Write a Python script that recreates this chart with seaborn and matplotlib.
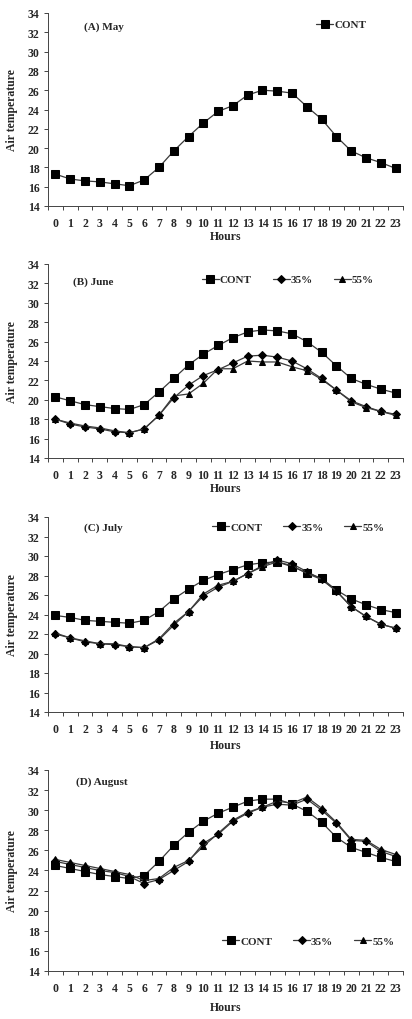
import numpy as np
import pandas as pd
import matplotlib
matplotlib.use("Agg")
import matplotlib.pyplot as plt
import seaborn as sns

sns.set_style("ticks")
plt.rcParams['font.family'] = ['Liberation Serif', 'DejaVu Serif']
plt.rcParams['font.weight'] = 'bold'

hours = list(range(24))

may_cont = [17.3, 16.8, 16.6, 16.5, 16.3, 16.1, 16.7, 18.0, 19.7, 21.2, 22.6, 23.8,
            24.4, 25.5, 26.0, 25.9, 25.7, 24.3, 23.0, 21.2, 19.7, 19.0, 18.5, 17.9]

june_cont = [20.3, 19.9, 19.5, 19.3, 19.1, 19.0, 19.5, 20.8, 22.2, 23.6, 24.7, 25.6,
             26.4, 27.0, 27.2, 27.1, 26.8, 26.0, 24.9, 23.5, 22.2, 21.6, 21.1, 20.7]
june_35 = [18.0, 17.5, 17.2, 17.0, 16.7, 16.6, 17.0, 18.4, 20.2, 21.5, 22.5, 23.1,
           23.8, 24.5, 24.6, 24.4, 24.0, 23.2, 22.2, 21.0, 19.9, 19.3, 18.8, 18.5]
june_55 = [18.0, 17.6, 17.3, 17.1, 16.8, 16.6, 17.0, 18.4, 20.4, 20.6, 21.7, 23.2,
           23.2, 24.0, 23.9, 23.9, 23.4, 23.0, 22.1, 21.0, 19.8, 19.2, 18.8, 18.4]

july_cont = [23.9, 23.7, 23.4, 23.3, 23.2, 23.1, 23.4, 24.3, 25.6, 26.6, 27.5, 28.1,
             28.6, 29.1, 29.3, 29.4, 28.9, 28.3, 27.7, 26.5, 25.6, 25.0, 24.5, 24.2]
july_35 = [22.0, 21.6, 21.2, 21.0, 20.9, 20.7, 20.6, 21.4, 22.9, 24.3, 25.9, 26.8,
           27.4, 28.2, 29.0, 29.6, 29.2, 28.4, 27.6, 26.4, 24.8, 23.8, 23.0, 22.6]
july_55 = [22.1, 21.6, 21.3, 21.0, 21.0, 20.7, 20.6, 21.5, 23.1, 24.3, 26.1, 27.0,
           27.4, 28.2, 28.9, 29.4, 29.0, 28.2, 27.6, 26.4, 24.8, 23.8, 23.0, 22.6]

aug_cont = [24.5, 24.2, 23.9, 23.6, 23.4, 23.2, 23.5, 24.9, 26.5, 27.8, 28.9, 29.7,
            30.3, 30.9, 31.1, 31.1, 30.6, 29.9, 28.8, 27.3, 26.3, 25.8, 25.3, 24.9]
aug_35 = [24.9, 24.6, 24.3, 24.0, 23.8, 23.4, 22.7, 23.1, 24.0, 24.9, 26.7, 27.6,
          28.9, 29.7, 30.3, 30.6, 30.5, 31.1, 30.0, 28.7, 27.0, 26.9, 25.9, 25.4]
aug_55 = [25.1, 24.8, 24.5, 24.2, 23.9, 23.6, 23.0, 23.2, 24.3, 25.0, 26.4, 27.7,
          29.0, 29.8, 30.3, 30.9, 30.7, 31.3, 30.2, 28.8, 27.1, 27.0, 26.1, 25.6]

series_names = ["CONT", "35%", "55%"]
panel_titles = ["(A) May", "(B) June", "(C) July", "(D) August"]
yticks = [14, 16, 18, 20, 22, 24, 26, 28, 30, 32, 34]

panels = [
    [may_cont],
    [june_cont, june_35, june_55],
    [july_cont, july_35, july_55],
    [aug_cont, aug_35, aug_55],
]

markers = {"CONT": "s", "35%": "D", "55%": "^"}
msizes = {"CONT": 5.2, "35%": 3.6, "55%": 5.0}

W, H = 412, 1020
fig = plt.figure(figsize=(W / 100, H / 100), dpi=100)

# pixel layout: (top, bottom, hours label y)
layout = [(14, 207, 237), (265, 459, 489), (518, 713, 746), (771, 972, 1008)]
title_pos = [(0.10, 0.93), (0.07, 0.91), (0.10, 0.95), (0.08, 0.945)]
legend_anchor = [(0.924, 0.94), (0.946, 0.92), (0.975, 0.95), (1.003, 0.15)]
left_px, right_px = 48, 403

for i, (vals_list, title) in enumerate(zip(panels, panel_titles)):
    top, bot, hy = layout[i]
    ax = fig.add_axes([left_px / W, 1 - bot / H, (right_px - left_px) / W, (bot - top) / H])
    rows = []
    for name, vals in zip(series_names, vals_list):
        for h, v in zip(hours, vals):
            rows.append({"Hours": h, "T": v, "Series": name})
    df = pd.DataFrame(rows)
    for name in series_names[:len(vals_list)]:
        d = df[df["Series"] == name]
        sns.lineplot(data=d, x="Hours", y="T", ax=ax, color="#3a3a3a", lw=0.9,
                     marker=markers[name], markersize=msizes[name],
                     markerfacecolor="black", markeredgecolor="black",
                     label=name, legend=False)
    ax.set_xlim(-0.5, 23.5)
    ax.set_ylim(14, 34)
    ax.set_yticks(yticks)
    ax.set_yticklabels([str(t) for t in yticks], fontsize=8.5, fontweight="bold")
    ax.set_xticks(hours)
    ax.set_xticklabels([str(h) for h in hours], fontsize=8.5, fontweight="bold")
    ax.set_xticks(np.arange(-0.5, 24, 1), minor=True)
    ax.tick_params(axis="x", which="major", length=0, pad=8)
    ax.tick_params(axis="x", which="minor", length=3, width=0.6, direction="out")
    ax.tick_params(axis="y", length=3, width=0.6, direction="out", pad=3)
    for s in ["top", "right"]:
        ax.spines[s].set_visible(False)
    for s in ["left", "bottom"]:
        ax.spines[s].set_linewidth(0.7)
        ax.spines[s].set_color("#444444")
    ax.set_xlabel("")
    ax.set_ylabel("Air temperature", fontsize=8.5, fontweight="bold", labelpad=7)
    fig.text((left_px + (right_px - left_px) / 2) / W, 1 - hy / H, "Hours",
             ha="center", va="center", fontsize=8.5, fontweight="bold")
    tx, ty = title_pos[i]
    ax.text(tx, ty, title, transform=ax.transAxes,
            fontsize=8, fontweight="bold", va="center", ha="left")
    lp = {"weight": "bold", "size": 8}
    ax.legend(loc="center right", bbox_to_anchor=legend_anchor[i],
              ncol=len(vals_list), frameon=False, handlelength=1.5,
              handletextpad=0.1, columnspacing=1.9, prop=lp)

fig.savefig("out.png", dpi=100, facecolor="white")
